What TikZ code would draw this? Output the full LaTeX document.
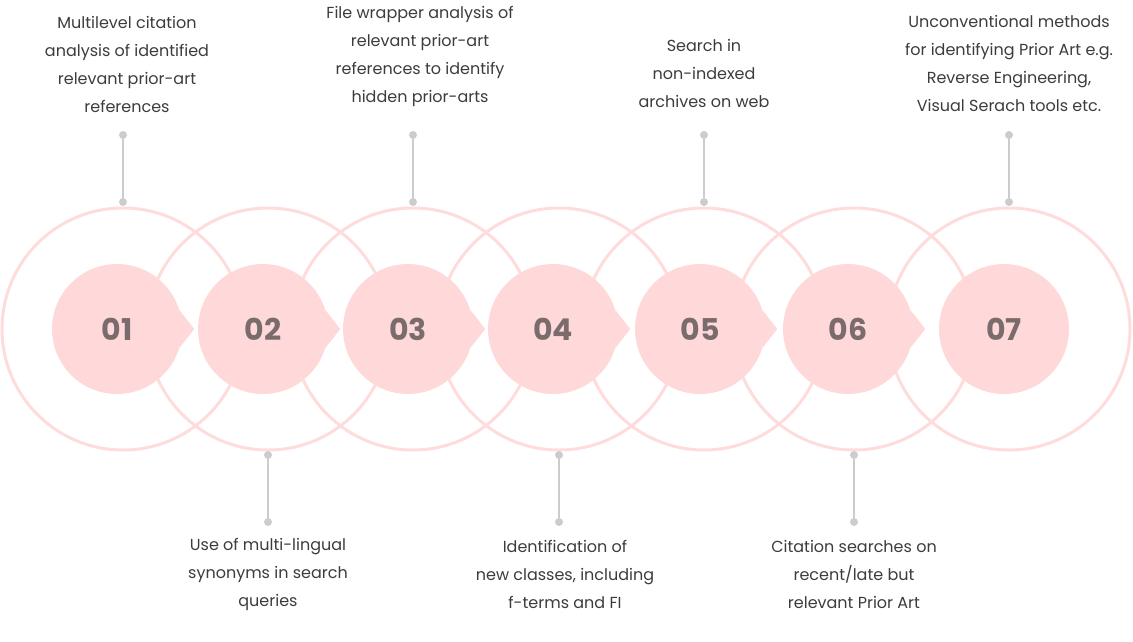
\documentclass[tikz,border=0pt]{standalone}
\usepackage{fontspec}
\setmainfont{Poppins}
\usetikzlibrary{positioning}
\definecolor{ringpink}{HTML}{FFDCDC}
\definecolor{discpink}{HTML}{FFD9DA}
\definecolor{numgray}{HTML}{7A6C6C}
\definecolor{txtgray}{HTML}{3C3C3C}
\definecolor{pingray}{HTML}{CCCCCC}

\begin{document}
\begin{tikzpicture}[x=1pt, y=-1pt,
      ring/.style={draw=ringpink, line width=3pt},
      disc/.style={circle, fill=discpink, minimum size=130pt, inner sep=0pt,
                   text=numgray, font=\fontsize{30}{30}\selectfont\bfseries},
      tip/.style={fill=discpink},
      pin/.style={circle, fill=pingray, minimum size=8pt, inner sep=0pt},
      pinline/.style={draw=pingray, line width=2.5pt},
      note/.style={align=center, text=txtgray, font=\fontsize{16}{28}\selectfont}
    ]
    \useasboundingbox (0,0) rectangle (1133,641);
    % outer rings
    \draw[ring] (123,329) circle (121);
    \draw[ring] (268,329) circle (121);
    \draw[ring] (413,329) circle (121);
    \draw[ring] (559,329) circle (121);
    \draw[ring] (704,329) circle (121);
    \draw[ring] (854,329) circle (121);
    \draw[ring] (1009,329) circle (121);
    % numbered discs
    \node[disc] (n1) at (117,329) {01};
    \node[disc] (n2) at (263,329) {02};
    \node[disc] (n3) at (408,329) {03};
    \node[disc] (n4) at (553,329) {04};
    \node[disc] (n5) at (700,329) {05};
    \node[disc] (n6) at (848,329) {06};
    \node[disc] (n7) at (1004,329) {07};
    \fill[tip] (n1.17) -- ([xshift=12pt]n1.east) -- (n1.-17) -- cycle;
    \fill[tip] (n2.17) -- ([xshift=12pt]n2.east) -- (n2.-17) -- cycle;
    \fill[tip] (n3.17) -- ([xshift=12pt]n3.east) -- (n3.-17) -- cycle;
    \fill[tip] (n4.17) -- ([xshift=12pt]n4.east) -- (n4.-17) -- cycle;
    \fill[tip] (n5.17) -- ([xshift=12pt]n5.east) -- (n5.-17) -- cycle;
    \fill[tip] (n6.17) -- ([xshift=12pt]n6.east) -- (n6.-17) -- cycle;
    % pins
    \node[pin] (p1a) at (123,135) {};  \node[pin] (p1b) at (123,202) {};
    \node[pin] (p2a) at (268,455) {};  \node[pin] (p2b) at (268,522) {};
    \node[pin] (p3a) at (413,135) {};  \node[pin] (p3b) at (413,202) {};
    \node[pin] (p4a) at (559,455) {};  \node[pin] (p4b) at (559,522) {};
    \node[pin] (p5a) at (704,135) {};  \node[pin] (p5b) at (704,202) {};
    \node[pin] (p6a) at (854,455) {};  \node[pin] (p6b) at (854,522) {};
    \node[pin] (p7a) at (1009,135) {}; \node[pin] (p7b) at (1009,202) {};
    \draw[pinline] (p1a) -- (p1b);
    \draw[pinline] (p2a) -- (p2b);
    \draw[pinline] (p3a) -- (p3b);
    \draw[pinline] (p4a) -- (p4b);
    \draw[pinline] (p5a) -- (p5b);
    \draw[pinline] (p6a) -- (p6b);
    \draw[pinline] (p7a) -- (p7b);
    % notes
    \node[note] (t1) at (127,64) {Multilevel citation\\analysis of identified\\relevant prior-art\\references};
    \node[note] (t2) at (268,574) {Use of multi-lingual\\synonyms in search\\queries};
    \node[note] (t3) at (420,56) {File wrapper analysis of\\relevant prior-art\\references to identify\\hidden prior-arts};
    \node[note] (t4) at (565,574) {Identification of\\new classes, including\\f-terms and FI};
    \node[note] (t5) at (704,73) {Search in\\non-indexed\\archives on web};
    \node[note] (t6) at (854,574) {Citation searches on\\recent/late but\\relevant Prior Art};
    \node[note] (t7) at (1009,63) {Unconventional methods\\for identifying Prior Art e.g.\\Reverse Engineering,\\Visual Serach tools etc.};
  \end{tikzpicture}
\end{document}
